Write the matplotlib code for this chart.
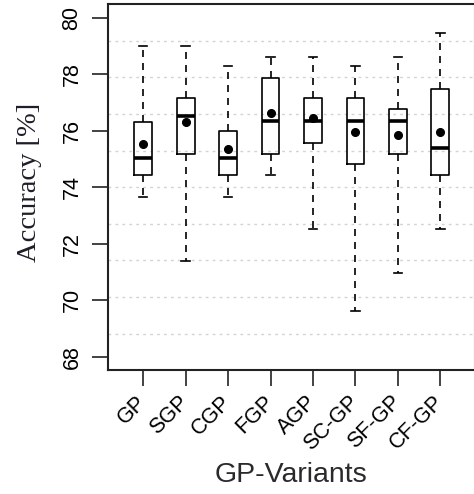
import matplotlib
matplotlib.use("Agg")
import matplotlib.pyplot as plt
import numpy as np

categories = ["GP", "SGP", "CGP", "FGP", "AGP", "SC-GP", "SF-GP", "CF-GP"]
whisker_low = [73.67, 71.38, 73.67, 74.44, 72.53, 69.62, 70.98, 72.53]
q1 = [74.44, 75.18, 74.44, 75.18, 75.57, 74.82, 75.18, 74.44]
medians = [75.04, 76.51, 75.04, 76.33, 76.33, 76.33, 76.33, 75.37]
q3 = [76.31, 77.14, 75.98, 77.87, 77.14, 77.14, 76.75, 77.48]
whisker_high = [79.0, 79.0, 78.28, 78.62, 78.62, 78.28, 78.62, 79.44]
means = [75.54, 76.30, 75.35, 76.63, 76.45, 75.94, 75.86, 75.94]
yticks = [68, 70, 72, 74, 76, 78, 80]

W, H = 474, 494
fig = plt.figure(figsize=(W / 100, H / 100), dpi=100)
left, right, top, bottom = 108.3, 473.5, 4.0, 370.4
ax = fig.add_axes([left / W, 1 - bottom / H, (right - left) / W, (bottom - top) / H])

ylo, yhi = 67.52, 80.48
ax.set_ylim(ylo, yhi)
ax.set_xlim(0.18, 8.78)

# grid: 10 equal divisions of plot region
for g in np.linspace(ylo, yhi, 11)[1:-1]:
    ax.axhline(g, color="#d3d3d3", lw=1.0, ls=(0, (2, 3)), zorder=0)

pos = np.arange(1, len(categories) + 1)
stats = []
for i, c in enumerate(categories):
    stats.append(dict(label=c, whislo=whisker_low[i], q1=q1[i], med=medians[i],
                      q3=q3[i], whishi=whisker_high[i], fliers=[]))

ax.bxp(stats, positions=pos, widths=0.42, capwidths=0.2, showfliers=False,
       patch_artist=False,
       boxprops=dict(color="black", lw=1.2),
       medianprops=dict(color="black", lw=2.6, solid_capstyle="butt"),
       whiskerprops=dict(color="black", lw=1.2, ls=(0, (4.2, 3.6))),
       capprops=dict(color="black", lw=1.2),
       manage_ticks=False, zorder=3)

ax.plot(pos, means, "o", color="black", markersize=5.5, zorder=4)

ax.set_xticks(pos)
ax.set_xticklabels(categories, rotation=45, ha="right", va="center",
                   rotation_mode="anchor", fontsize=15.5, family="Liberation Sans")
ax.set_yticks(yticks)
ax.set_yticklabels([str(t) for t in yticks], rotation=90, va="center",
                   fontsize=15.5, family="Liberation Sans")
ax.tick_params(axis="both", length=11.5, width=1.2, color="#222222")
ax.tick_params(axis="x", pad=9)
ax.tick_params(axis="y", pad=7)

for s in ["left", "bottom", "top"]:
    ax.spines[s].set_linewidth(1.5)
    ax.spines[s].set_color("#222222")
ax.spines["right"].set_linewidth(0.8)
ax.spines["right"].set_color("#999999")

ax.set_ylabel("Accuracy [%]", family="Liberation Serif", fontsize=20.5, color="#1e1e28")
ax.yaxis.set_label_coords(-0.181, 0.514)
ax.set_xlabel("GP-Variants", family="Liberation Sans", fontsize=20.5, color="#2a2a2a")
ax.xaxis.set_label_coords(0.5, -0.25)

fig.savefig("out.png", dpi=100)
